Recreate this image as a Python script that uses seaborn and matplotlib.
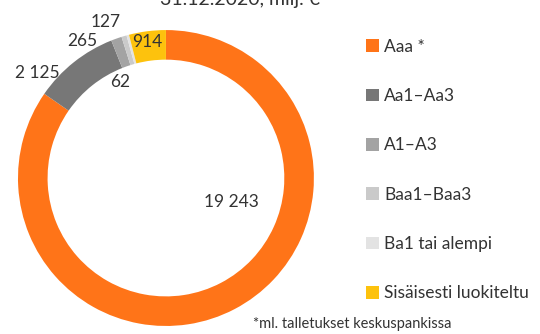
import matplotlib
matplotlib.use("Agg")
import matplotlib.pyplot as plt
import seaborn as sns

categories = ["Aaa *", "Aa1–Aa3", "A1–A3", "Baa1–Baa3", "Ba1 tai alempi", "Sisäisesti luokiteltu"]
values = [19243, 2125, 265, 127, 62, 914]
value_labels = ["19 243", "2 125", "265", "127", "62", "914"]
colors = ["#FF7418", "#777777", "#A3A3A3", "#CACACA", "#E3E3E3", "#FDC20D"]
title_text = "31.12.2020, milj. €"
footnote = "*ml. talletukset keskuspankissa"

sns.set_theme(style="white")
plt.rcParams["font.family"] = ["Lato", "DejaVu Sans"]
TXT = "#333333"

fig = plt.figure(figsize=(5.4, 3.34), dpi=100)
ax = fig.add_axes([0.0333, 0.024, 0.548, 0.886])
wedges, _ = ax.pie(values, colors=colors, startangle=90, counterclock=False,
                   radius=1.0, wedgeprops=dict(width=0.2, linewidth=0))
ax.set_xlim(-1, 1)
ax.set_ylim(-1, 1)
ax.set_aspect("equal")
ax.axis("off")

label_pos = [(0.446, -0.162), (-0.872, 0.709), (-0.568, 0.926),
             (-0.405, 1.054), (-0.311, 0.649), (-0.128, 0.919)]
for (x, y), t in zip(label_pos, value_labels):
    ax.text(x, y, t, ha="center", va="center", fontsize=12.5, color=TXT, clip_on=False)

fig.text(0.445, 1.0, title_text, ha="center", va="center", fontsize=14, color=TXT)

leg = fig.legend(wedges, categories, loc="upper left", bbox_to_anchor=(0.665, 0.905),
                 frameon=False, fontsize=12.5, handlelength=0.75, handleheight=0.75,
                 handletextpad=0.3, labelspacing=1.92, borderaxespad=0)
for t in leg.get_texts():
    t.set_color(TXT)

fig.text(0.652, 0.03, footnote, ha="center", va="center", fontsize=10.5, color=TXT)

fig.savefig("out.png", dpi=100)
